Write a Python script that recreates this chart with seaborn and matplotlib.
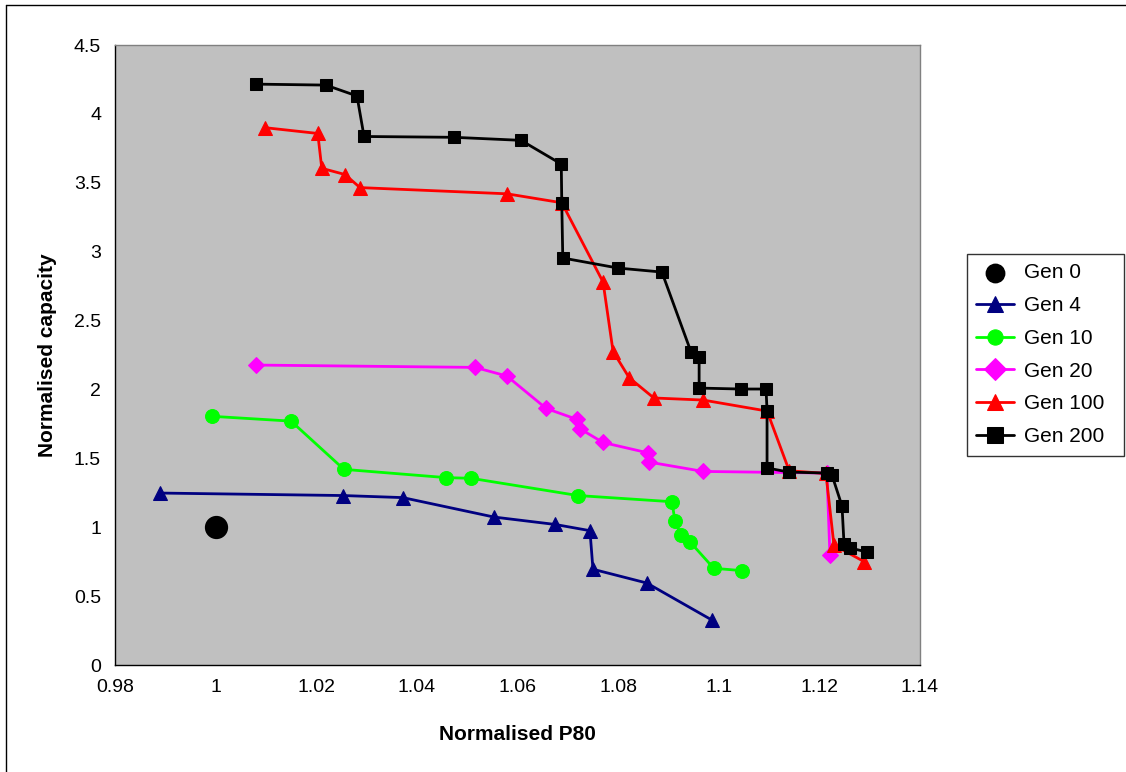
import matplotlib
matplotlib.use("Agg")
import matplotlib.pyplot as plt
import seaborn as sns
import pandas as pd
from matplotlib.lines import Line2D

# data
gen0_x = [1.0]
gen0_y = [1.0]

gen4_x = [0.9889, 1.0253, 1.0372, 1.0553, 1.0675, 1.0744, 1.0750, 1.0857, 1.0987]
gen4_y = [1.248, 1.230, 1.215, 1.074, 1.020, 0.975, 0.695, 0.595, 0.325]

gen10_x = [0.9993, 1.0150, 1.0255, 1.0458, 1.0508, 1.0720, 1.0907, 1.0913, 1.0925, 1.0943, 1.0990, 1.1046]
gen10_y = [1.805, 1.770, 1.420, 1.360, 1.355, 1.230, 1.185, 1.045, 0.943, 0.893, 0.702, 0.685]

gen20_x = [1.0080, 1.0516, 1.0579, 1.0657, 1.0718, 1.0724, 1.0770, 1.0859, 1.0861, 1.0969, 1.1215, 1.1221]
gen20_y = [2.177, 2.160, 2.097, 1.862, 1.783, 1.715, 1.615, 1.540, 1.473, 1.405, 1.393, 0.795]

gen100_x = [1.0098, 1.0203, 1.0211, 1.0257, 1.0287, 1.0579, 1.0688, 1.0770, 1.0790, 1.0822,
            1.0871, 1.0969, 1.1096, 1.1140, 1.1213, 1.1229, 1.1289]
gen100_y = [3.900, 3.858, 3.605, 3.560, 3.465, 3.420, 3.355, 2.780, 2.275, 2.085,
            1.938, 1.923, 1.843, 1.410, 1.390, 0.870, 0.750]

gen200_x = [1.0080, 1.0219, 1.0281, 1.0295, 1.0474, 1.0607, 1.0687, 1.0688, 1.0690, 1.0800,
            1.0887, 1.0945, 1.0961, 1.0961, 1.1044, 1.1094, 1.1096, 1.1096, 1.1140, 1.1215,
            1.1225, 1.1245, 1.1249, 1.1261, 1.1295]
gen200_y = [4.216, 4.209, 4.130, 3.836, 3.830, 3.808, 3.636, 3.353, 2.954, 2.881,
            2.852, 2.271, 2.235, 2.010, 2.003, 2.003, 1.843, 1.430, 1.400, 1.393,
            1.379, 1.154, 0.878, 0.849, 0.820]

x_ticks = [0.98, 1.0, 1.02, 1.04, 1.06, 1.08, 1.1, 1.12, 1.14]
y_ticks = [0, 0.5, 1, 1.5, 2, 2.5, 3, 3.5, 4, 4.5]

series = [
    ("Gen 4", gen4_x, gen4_y, "#000080", "^", 10),
    ("Gen 10", gen10_x, gen10_y, "#00FF00", "o", 10),
    ("Gen 20", gen20_x, gen20_y, "#FF00FF", "D", 8),
    ("Gen 100", gen100_x, gen100_y, "#FF0000", "^", 10),
    ("Gen 200", gen200_x, gen200_y, "#000000", "s", 9),
]

sns.set_style("white")
plt.rcParams["font.family"] = ["Liberation Sans", "DejaVu Sans"]
plt.rcParams["text.color"] = "black"
plt.rcParams["axes.labelcolor"] = "black"
plt.rcParams["xtick.color"] = "black"
plt.rcParams["ytick.color"] = "black"

fig = plt.figure(figsize=(11.26, 7.72), dpi=100)
ax = fig.add_axes([115 / 1126, 1 - 665 / 772, 805 / 1126, 620 / 772])
ax.set_facecolor("#C0C0C0")

sns.scatterplot(x=gen0_x, y=gen0_y, ax=ax, color="black", marker="o", s=240,
                edgecolor="black", label="Gen 0", zorder=3)

for name, xs, ys, col, mk, ms in series:
    df = pd.DataFrame({"x": xs, "y": ys})
    sns.lineplot(data=df, x="x", y="y", ax=ax, sort=False, estimator=None, errorbar=None,
                 color=col, marker=mk, markersize=ms, markeredgecolor=col,
                 linewidth=2, label=name, zorder=3)

ax.set_xlim(0.98, 1.14)
ax.set_ylim(0, 4.5)
ax.set_xticks(x_ticks)
ax.set_yticks(y_ticks)
ax.set_xticklabels(["{:g}".format(v) for v in x_ticks], fontsize=14)
ax.set_yticklabels(["{:g}".format(v) for v in y_ticks], fontsize=14)
ax.tick_params(axis="both", direction="out", length=5, width=1, color="black", pad=5)
ax.set_xlabel("Normalised P80", fontsize=15, fontweight="bold", labelpad=21)
ax.set_ylabel("Normalised capacity", fontsize=15, fontweight="bold", labelpad=12)

for side in ["top", "right"]:
    ax.spines[side].set_color("#808080")
for side in ["left", "bottom"]:
    ax.spines[side].set_color("black")
for sp in ax.spines.values():
    sp.set_linewidth(1)

leg = ax.legend(loc="upper left", bbox_to_anchor=(967 / 1126, 1 - 455 / 772, 157 / 1126, 201 / 772),
                bbox_transform=fig.transFigure, mode="expand", frameon=True, fancybox=False,
                fontsize=15, handlelength=1.8, labelspacing=0.66, borderpad=0.45,
                handletextpad=0.5, borderaxespad=0)
leg.get_frame().set_edgecolor("black")
leg.get_frame().set_linewidth(1)
for h in leg.legend_handles:
    try:
        h.set_markersize(11)
    except AttributeError:
        h.set_sizes([170])

# figure border (top and left edges visible in the reference)
fig.add_artist(Line2D([6 / 1126, 6 / 1126], [0, 1 - 5 / 772], transform=fig.transFigure,
                      color="black", linewidth=1))
fig.add_artist(Line2D([6 / 1126, 1], [1 - 5 / 772, 1 - 5 / 772], transform=fig.transFigure,
                      color="black", linewidth=1))

fig.savefig("out.png", dpi=100)
